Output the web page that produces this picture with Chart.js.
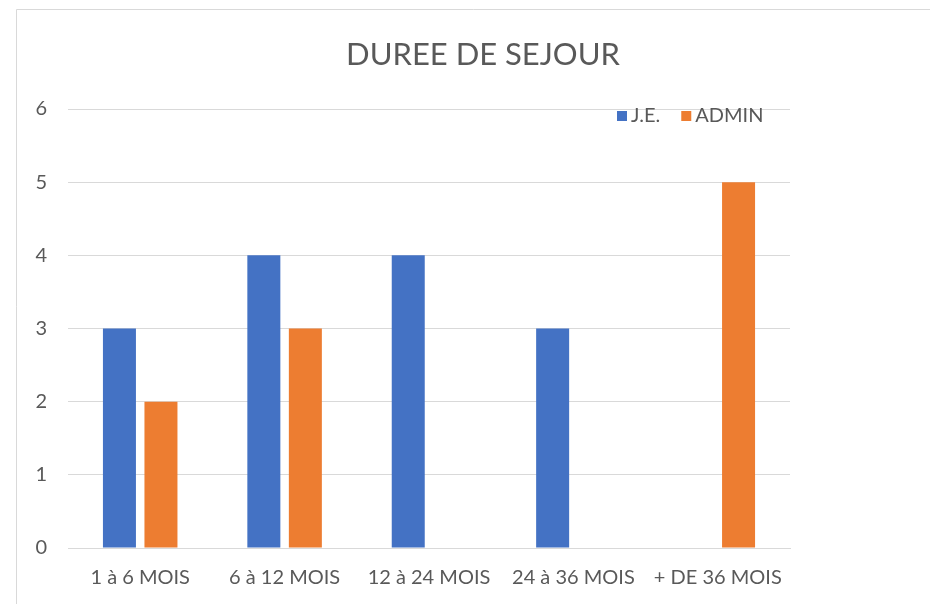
<!DOCTYPE html>
<html><head><meta charset="utf-8">
<script src="https://cdn.jsdelivr.net/npm/chart.js@4"></script>
<style>html,body{margin:0;padding:0;background:#fff}#wrap{width:930px;height:604px;position:relative}</style>
</head><body><div id="wrap"><canvas id="c" width="930" height="604"></canvas></div>
<script>
const categories = ["1 à 6 MOIS", "6 à 12 MOIS", "12 à 24 MOIS", "24 à 36 MOIS", "+ DE 36 MOIS"];
const seriesJE = [3, 4, 4, 3, 0];
const seriesADMIN = [2, 3, 0, 0, 5];
const yTicks = [0, 1, 2, 3, 4, 5, 6];
const chartTitle = "DUREE DE SEJOUR";
const FONT = "Lato, 'Open Sans', sans-serif";
const TXT = "#595959";

const decor = {
  id: 'decor',
  beforeDraw(chart) {
    const ctx = chart.ctx;
    ctx.save();
    ctx.fillStyle = '#fff';
    ctx.fillRect(0, 0, chart.width, chart.height);
    ctx.strokeStyle = '#d9d9d9';
    ctx.lineWidth = 1;
    ctx.beginPath();
    ctx.moveTo(16.5, 604); ctx.lineTo(16.5, 9.5); ctx.lineTo(930, 9.5);
    ctx.stroke();
    ctx.restore();
  },
  afterDraw(chart) {
    const ctx = chart.ctx;
    ctx.save();
    ctx.fillStyle = TXT;
    ctx.font = "31px " + FONT;
    ctx.textAlign = 'center';
    ctx.textBaseline = 'middle';
    ctx.fillText(chartTitle, 483, 55);
    // legend
    ctx.font = "20px " + FONT;
    ctx.textAlign = 'left';
    const items = chart.data.datasets;
    let x = 617;
    const y = 116;
    items.forEach((ds, i) => {
      ctx.fillStyle = ds.backgroundColor;
      ctx.fillRect(x, y - 5, 10, 10);
      ctx.fillStyle = TXT;
      ctx.fillText(ds.label, x + 14, y);
      x += 14 + ctx.measureText(ds.label).width + 21;
    });
    ctx.restore();
  }
};

new Chart(document.getElementById('c'), {
  type: 'bar',
  data: {
    labels: categories,
    datasets: [
      { label: 'J.E.', data: seriesJE, backgroundColor: '#4472C4' },
      { label: 'ADMIN', data: seriesADMIN, backgroundColor: '#ED7D31' }
    ]
  },
  options: {
    responsive: false,
    animation: false,
    layout: { padding: { left: 20, right: 140, top: 109, bottom: 0 } },
    datasets: { bar: { categoryPercentage: 0.575, barPercentage: 0.795 } },
    plugins: { legend: { display: false }, title: { display: false }, tooltip: { enabled: false } },
    scales: {
      x: {
        grid: { display: false, drawTicks: false },
        border: { display: true, color: '#d9d9d9' },
        ticks: { color: TXT, font: { family: FONT, size: 20 }, padding: 18, maxRotation: 0, autoSkip: false },
        afterFit(s) { s.height = 56; }
      },
      y: {
        min: 0, max: 6,
        afterBuildTicks(s) { s.ticks = yTicks.map(v => ({ value: v })); },
        grid: { color: '#d9d9d9', drawTicks: false },
        border: { display: false },
        ticks: { color: TXT, font: { family: FONT, size: 20 }, padding: 21 },
        afterFit(s) { s.width = 48; }
      }
    }
  },
  plugins: [decor]
});
</script></body></html>
